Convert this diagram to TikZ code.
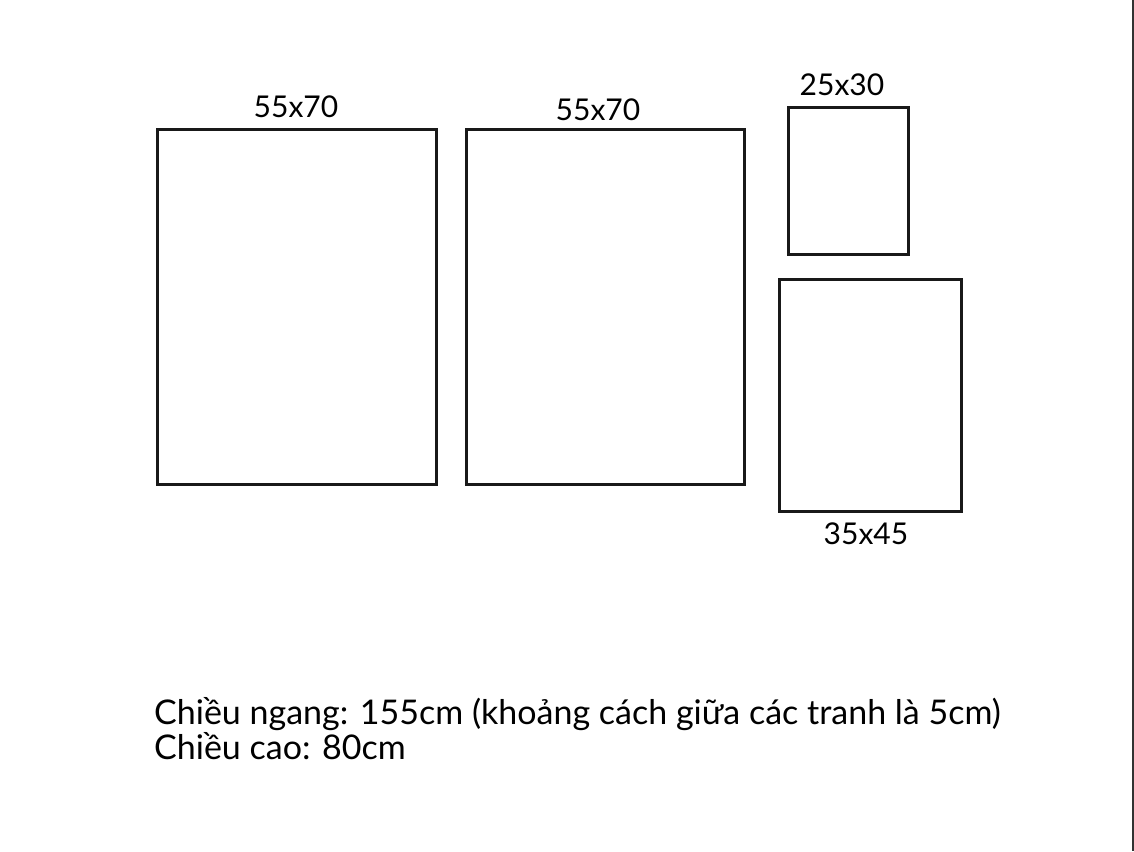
\documentclass[tikz,border=0pt]{standalone}
\usepackage{fontspec}
\setmainfont{Lato}
\begin{document}
\begin{tikzpicture}[x=1pt,y=-1pt,
  frame/.style={draw=black!90, line width=3pt, rectangle, inner sep=0pt, outer sep=0pt},
  lbl/.style={anchor=base, inner sep=0pt, font=\fontsize{30}{32}\selectfont},
  note/.style={anchor=base west, inner sep=0pt, font=\fontsize{34}{38}\selectfont}]
\useasboundingbox (0,0) rectangle (1134,851);
\fill[white] (0,0) rectangle (1134,851);
\draw[black!80, line width=2pt] (1133,0) -- (1133,851);
\node[frame, minimum width=279pt, minimum height=355pt] (p1) at (296.5,306.5) {};
\node[frame, minimum width=278pt, minimum height=355pt] (p2) at (605,306.5) {};
\node[frame, minimum width=120pt, minimum height=147pt] (p3) at (848,180.5) {};
\node[frame, minimum width=182pt, minimum height=232pt] (p4) at (870,395) {};
\node[lbl] (l1) at (296,117) {55x70};
\node[lbl] (l2) at (598,120) {55x70};
\node[lbl] (l3) at (842,95) {25x30};
\node[lbl] (l4) at (866,544) {35x45};
\node[note] (n1) at (154,724) {Chiều ngang: 155cm (khoảng cách giữa các tranh là 5cm)};
\node[note] (n2) at (154,759) {Chiều cao: 80cm};
\end{tikzpicture}
\end{document}
